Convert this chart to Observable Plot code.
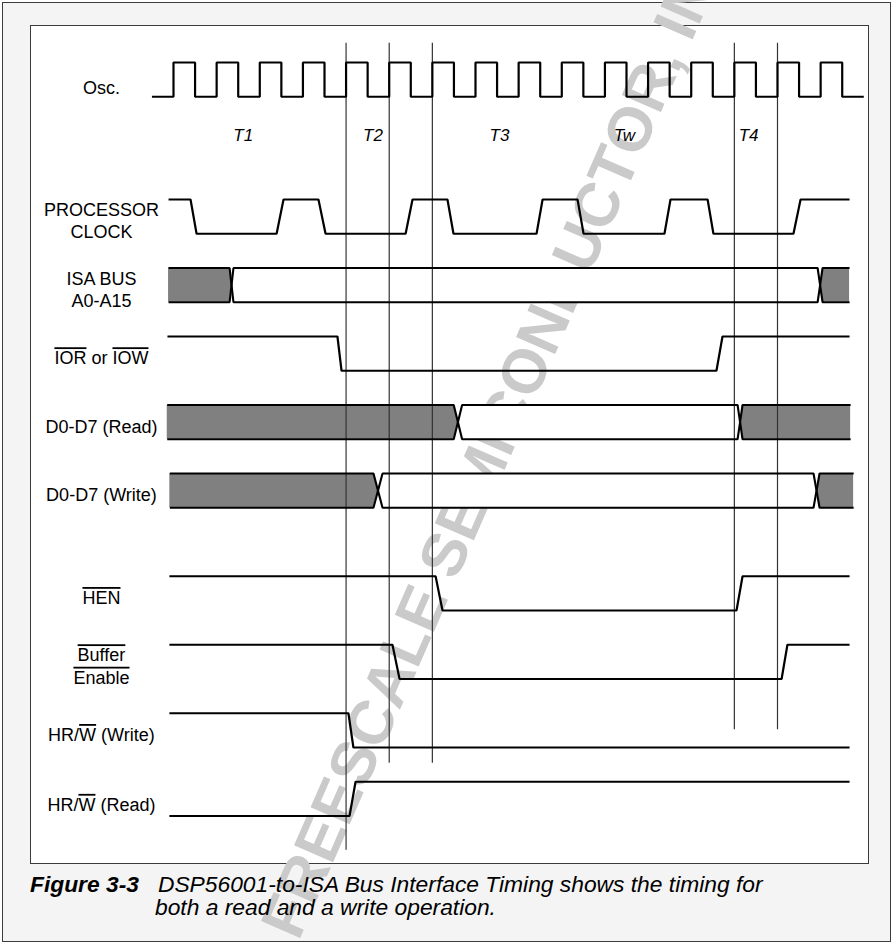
<!DOCTYPE html>
<html>
<head>
<meta charset="utf-8">
<script src="https://cdn.jsdelivr.net/npm/d3@7"></script>
<script src="https://cdn.jsdelivr.net/npm/@observablehq/plot@0.6"></script>
<style>
  html, body { margin: 0; padding: 0; background: #ffffff; }
  #wrap { position: relative; width: 894px; height: 945px; overflow: hidden; font-family: "Liberation Sans", Arial, sans-serif; }
  #outer { position: absolute; left: 2px; top: 2px; width: 887px; height: 938px; background: #f4f4f4; border: 1.6px solid #3c3c3c; }
  #inner { position: absolute; left: 30px; top: 25px; width: 837px; height: 837px; background: #ffffff; border: 1.6px solid #3a3a3a; }
  #chart { position: absolute; left: 0; top: 0; }
  .cap { position: absolute; font-size: 22.8px; font-style: italic; color: #000; white-space: nowrap; line-height: 1; z-index: 5; }
  .cap b { font-weight: bold; }
</style>
</head>
<body>
<div id="wrap">
  <div id="outer"></div>
  <div id="inner"></div>
  <div id="chart"></div>
  <div class="cap" style="left:30px; top:873px;"><b>Figure 3-3</b>&nbsp;&nbsp; DSP56001-to-ISA Bus Interface Timing shows the timing for</div>
  <div class="cap" style="left:155px; top:896px;">both a read and a write operation.</div>
</div>
<script>
// ---------- DATA (time in half-cycles of Osc; rows in signal-row units) ----------
const signalLabels = ["Osc.", "PROCESSOR\nCLOCK", "ISA BUS\nA0-A15", "~IOR~ or ~IOW~", "D0-D7 (Read)", "D0-D7 (Write)", "~HEN~", "~Buffer~\n~Enable~", "HR/~W~ (Write)", "HR/~W~ (Read)"];
const signalRows   = [0, 2, 3, 4, 5, 6, 7.5, 8.5, 9.5, 10.5];

// Osc: square clock, starts low, toggles at each listed edge
const oscStart = -1, oscEnd = 32;
const oscEdges = [0,1,2,3,4,5,6,7,8,9,10,11,12,13,14,15,16,17,18,19,20,21,22,23,24,25,26,27,28,29,30,31];

// level signals: [time, level] (1 = high, 0 = low)
const procClock = [[-0.23,1],[0.79,1],[1.07,0],[4.78,0],[5.10,1],[6.72,1],[7.05,0],[10.76,0],[11.08,1],[12.70,1],[12.98,0],[16.83,0],[17.11,1],[18.73,1],[19.01,0],[22.76,0],[23.04,1],[24.76,1],[25.03,0],[28.74,0],[29.07,1],[31.34,1]];
const iorIow    = [[-0.28,1],[7.60,1],[7.79,0],[25.17,0],[25.45,1],[31.34,1]];
const hen       = [[-0.19,1],[12.15,1],[12.47,0],[26.10,0],[26.38,1],[31.34,1]];
const bufEnable = [[-0.19,1],[10.15,1],[10.48,0],[28.19,0],[28.46,1],[31.34,1]];
const hrwWrite  = [[-0.19,1],[8.11,1],[8.34,0],[31.34,0]];
const hrwRead   = [[-0.19,0],[8.16,0],[8.44,1],[31.34,1]];

// buses: start, end, crossings [from,to], state of each segment
const isaBus   = { start: -0.23, end: 31.34, cross: [[2.60, 2.78], [29.86, 30.09]], states: ["invalid", "valid", "invalid"] };
const readBus  = { start: -0.29, end: 31.39, cross: [[12.99, 13.38], [26.15, 26.38]], states: ["invalid", "valid", "invalid"] };
const writeBus = { start: -0.17, end: 31.53, cross: [[9.27, 9.69], [29.67, 29.95]], states: ["invalid", "valid", "invalid"] };

// phase labels
const phaseNames = ["T1", "T2", "T3", "Tw", "T4"];
const phaseTimes = [3.23, 9.25, 15.11, 20.9, 26.66];

// vertical timing markers: time and bottom end (row units)
const markerTimes = [8, 10, 12, 26, 28];
const markerEnds  = [11.5, 10.23, 10.23, 9.74, 9.74];
const markerTop = -0.28;

// ---------- build mark data ----------
const levelRows = [
  {name: "proc", row: 2, pts: procClock},
  {name: "ior", row: 4, pts: iorIow},
  {name: "hen", row: 7.5, pts: hen},
  {name: "buf", row: 8.5, pts: bufEnable},
  {name: "hrww", row: 9.5, pts: hrwWrite},
  {name: "hrwr", row: 10.5, pts: hrwRead}
];
const levelPts = [];
for (const s of levelRows) for (const [t, l] of s.pts) levelPts.push({z: s.name, t, y: s.row + (1 - l) * 0.5});

// osc points
let lev = 0;
levelPts.push({z: "osc", t: oscStart, y: (1 - lev) * 0.5});
for (const e of oscEdges) {
  levelPts.push({z: "osc", t: e, y: (1 - lev) * 0.5});
  lev = 1 - lev;
  levelPts.push({z: "osc", t: e, y: (1 - lev) * 0.5});
}
levelPts.push({z: "osc", t: oscEnd, y: (1 - lev) * 0.5});

// bus geometry
const busFill = [], busEdge = [];
[[isaBus, 3, "isa"], [readBus, 5, "rd"], [writeBus, 6, "wr"]].forEach(([b, row, nm]) => {
  const top = row, bot = row + 0.5, mid = row + 0.25;
  const n = b.states.length;
  for (let i = 0; i < n; i++) {
    const L = i === 0 ? [b.start, b.start] : b.cross[i - 1];
    const R = i === n - 1 ? [b.end, b.end] : b.cross[i];
    const Lm = (L[0] + L[1]) / 2, Rm = (R[0] + R[1]) / 2;
    const seg = nm + i;
    const xs = [Lm, L[1], R[0], Rm];
    const up = [mid, top, top, mid], dn = [mid, bot, bot, mid];
    if (i === 0) { up[0] = top; dn[0] = bot; }
    if (i === n - 1) { up[3] = top; dn[3] = bot; }
    xs.forEach((t, k) => {
      busFill.push({seg, state: b.states[i], t, y1: dn[k], y2: up[k]});
      busEdge.push({z: seg + "u", t, y: up[k]});
    });
    xs.forEach((t, k) => busEdge.push({z: seg + "d", t, y: dn[k]}));
  }
});

const labelOffsets = [0.36, 0.3, 0.3, 0.3, 0.3, 0.3, 0.3, 0.3, 0.3, 0.32];
const labels = signalLabels.map((s, i) => ({text: s, row: signalRows[i] + labelOffsets[i]}));
const phases = phaseNames.map((s, i) => ({text: s, t: phaseTimes[i]}));
const markers = markerTimes.map((t, i) => ({t, y2: markerEnds[i]}));

const chart = Plot.plot({
  width: 894,
  height: 945,
  margin: 0,
  x: {type: "linear", domain: [0, 28], range: [173, 777], axis: null},
  y: {type: "linear", domain: [0, 1], range: [62, 130.5], axis: null},
  style: {background: "transparent", fontFamily: "'Liberation Sans', Arial, sans-serif", overflow: "visible"},
  marks: [
    // watermark
    Plot.text(["FREESCALE SEMICONDUCTOR, INC."], {x: () => 15.2, y: () => 5.33, text: d => d, rotate: -66.4, fontSize: 62, fontWeight: "bold", fill: "#cacaca", textAnchor: "middle", lineAnchor: "middle"}),
    // bus fills
    Plot.areaY(busFill, {x: "t", y1: "y1", y2: "y2", z: "seg", fill: d => d.state === "invalid" ? "#808080" : "#ffffff", curve: "linear"}),
    // vertical timing markers
    Plot.ruleX(markers, {x: "t", y1: () => markerTop, y2: "y2", stroke: "#333333", strokeWidth: 1.2}),
    // bus outlines
    Plot.line(busEdge, {x: "t", y: "y", z: "z", stroke: "#000", strokeWidth: 2.1, strokeLinejoin: "miter", strokeLinecap: "butt", curve: "linear"}),
    // level signals
    Plot.line(levelPts, {x: "t", y: "y", z: "z", stroke: "#000", strokeWidth: 2.2, strokeLinejoin: "miter", strokeLinecap: "butt", curve: "linear"}),
    // signal labels
    Plot.text(labels, {x: () => -3.34, y: "row", text: "text", fontSize: 18, lineHeight: 1.25, fill: "#000", textAnchor: "middle"}),
    // phase labels
    Plot.text(phases, {x: "t", y: () => 1.07, text: "text", fontSize: 17, fontStyle: "italic", fill: "#000", textAnchor: "middle"})
  ]
});

// overline decoration for active-low names (~...~)
function decorate(node) {
  const s = node.textContent;
  if (!s.includes("~")) return;
  while (node.firstChild) node.removeChild(node.firstChild);
  s.split("~").forEach((part, i) => {
    if (!part) return;
    const ts = document.createElementNS("http://www.w3.org/2000/svg", "tspan");
    ts.textContent = part;
    if (i % 2 === 1) {
      ts.setAttribute("text-decoration", "overline");
      ts.style.textDecoration = "overline";
    }
    node.appendChild(ts);
  });
}
chart.querySelectorAll("text").forEach(el => {
  if (!el.textContent.includes("~")) return;
  const lineSpans = Array.from(el.children).filter(c => c.tagName.toLowerCase() === "tspan");
  if (lineSpans.length) lineSpans.forEach(decorate);
  else decorate(el);
});

document.getElementById("chart").appendChild(chart);
</script>
</body>
</html>
